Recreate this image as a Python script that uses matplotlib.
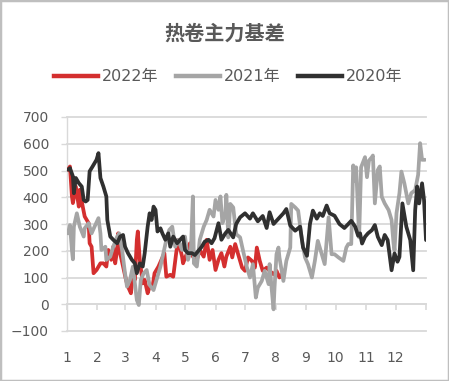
import matplotlib
matplotlib.use("Agg")
import matplotlib.pyplot as plt
from matplotlib.patches import Rectangle
from matplotlib.lines import Line2D

plt.rcParams['font.family'] = ['DejaVu Sans', 'Noto Sans CJK SC']

title = "热卷主力基差"
series_names = ["2022年", "2021年", "2020年"]
month_labels = ["1", "2", "3", "4", "5", "6", "7", "8", "9", "10", "11", "12", ""]
month_starts = [0, 31, 59, 90, 120, 151, 181, 212, 243, 273, 304, 334, 365]

days_2022 = [1, 3, 5, 6, 9, 12, 13, 16, 18, 22, 23, 25, 27, 30, 34, 37, 40, 42, 45, 47,
             49, 51, 52, 54, 57, 60, 62, 65, 67, 69, 71, 72, 74, 77, 79, 82, 84, 87, 89, 93,
             96, 99, 101, 105, 108, 111, 113, 117, 118, 122, 125, 128, 132, 135, 139, 142,
             145, 148, 151, 154, 157, 160, 162, 166, 168, 171, 174, 178, 181, 184, 188, 191,
             193, 196, 199, 203, 206, 210, 213, 216, 218]
basis_2022 = [503, 515, 403, 378, 440, 365, 428, 365, 328, 303, 228, 215, 116, 128, 153, 153,
              141, 203, 166, 215, 153, 203, 265, 191, 141, 91, 66, 41, 116, 91, 241, 272, 166,
              78, 91, 41, 66, 66, 116, 141, 166, 191, 103, 110, 103, 191, 241, 178, 153, 191,
              228, 178, 166, 203, 178, 241, 166, 203, 128, 166, 191, 141, 178, 215, 175, 225,
              187, 137, 125, 175, 162, 137, 212, 162, 125, 137, 125, 112, 125, 100, 110]

days_2021 = [1, 3, 5, 6, 7, 10, 13, 17, 18, 22, 25, 28, 32, 34, 35, 39, 40, 44, 47, 51, 53,
             56, 59, 61, 64, 67, 69, 71, 73, 75, 78, 81, 84, 88, 91, 95, 98, 101, 104, 107,
             110, 113, 117, 120, 123, 126, 128, 129, 132, 135, 139, 142, 145, 149, 151, 154,
             156, 158, 161, 162, 164, 166, 169, 172, 176, 179, 183, 186, 189, 192, 194, 198,
             201, 205, 206, 208, 210, 211, 213, 215, 216, 220, 223, 227, 228, 232, 235, 239,
             242, 245, 249, 252, 255, 259, 262, 266, 269, 272, 276, 281, 284, 286, 289, 291,
             293, 294, 297, 299, 303, 305, 307, 310, 311, 313, 316, 318, 320, 323, 327, 330,
             332, 333, 335, 338, 340, 343, 347, 350, 354, 357, 359, 361, 364]
basis_2021 = [265, 296, 203, 168, 290, 340, 290, 253, 284, 303, 265, 290, 322, 265, 203, 215,
              166, 178, 215, 253, 265, 203, 116, 66, 91, 141, 78, 16, -3, 91, 116, 128, 72, 53,
              91, 141, 191, 241, 278, 290, 215, 241, 203, 253, 166, 203, 403, 153, 141, 241,
              290, 315, 353, 328, 390, 353, 403, 303, 340, 409, 250, 375, 362, 262, 250, 200,
              137, 100, 150, 25, 62, 87, 125, 75, 150, 62, -19, 62, 187, 212, 175, 87, 162, 212,
              375, 362, 350, 237, 175, 150, 100, 162, 237, 187, 150, 325, 187, 187, 175, 162,
              212, 225, 225, 519, 462, 512, 250, 512, 550, 475, 537, 550, 556, 377, 502, 515,
              402, 377, 352, 315, 227, 202, 340, 415, 496, 452, 377, 415, 427, 484, 602, 540, 540]

days_2020 = [1, 3, 6, 7, 9, 12, 15, 17, 19, 21, 23, 26, 30, 32, 34, 37, 40, 41, 44, 47, 51,
             54, 57, 59, 62, 66, 69, 71, 74, 77, 79, 82, 84, 86, 88, 90, 92, 95, 97, 100, 103,
             105, 108, 112, 115, 118, 120, 123, 127, 130, 133, 137, 140, 144, 147, 150, 154,
             157, 161, 164, 169, 172, 176, 181, 186, 189, 194, 199, 203, 206, 210, 215, 220,
             223, 227, 232, 237, 240, 244, 247, 250, 254, 257, 260, 264, 267, 272, 277, 282,
             286, 289, 293, 296, 298, 300, 303, 306, 310, 313, 316, 320, 323, 326, 330, 333,
             336, 338, 341, 345, 349, 352, 354, 356, 358, 361, 363, 365]
basis_2020 = [503, 509, 478, 415, 472, 453, 440, 390, 384, 390, 497, 515, 540, 565, 472, 440,
              403, 315, 253, 241, 228, 253, 259, 215, 191, 166, 153, 116, 153, 141, 191, 290,
              340, 315, 365, 353, 272, 284, 265, 241, 265, 215, 253, 228, 241, 253, 203, 191,
              191, 184, 197, 215, 234, 241, 228, 247, 303, 241, 265, 278, 250, 300, 325, 340,
              320, 340, 310, 330, 285, 344, 300, 320, 340, 356, 294, 275, 290, 212, 181, 300,
              350, 320, 340, 330, 369, 340, 331, 300, 285, 300, 312, 290, 256, 265, 227, 252,
              265, 277, 296, 252, 221, 259, 240, 127, 190, 159, 177, 377, 290, 240, 127, 352,
              440, 377, 452, 390, 240]

colors = ["#d42f2f", "#a5a5a5", "#303030"]
text_color = "#595959"
grid_color = "#d9d9d9"

fig = plt.figure(figsize=(4.49, 3.81), dpi=100)
ax = fig.add_axes([67 / 449, 50 / 381, (426 - 67) / 449, (331 - 117) / 381])

for d, v, c in [(days_2022, basis_2022, colors[0]),
                (days_2021, basis_2021, colors[1]),
                (days_2020, basis_2020, colors[2])]:
    ax.plot(d, v, color=c, lw=2.7, solid_joinstyle='round', solid_capstyle='round', zorder=3)

ax.set_xlim(0, 365)
ax.set_ylim(-100, 700)
ax.set_yticks(range(-100, 701, 100))
ax.yaxis.grid(True, color=grid_color, lw=1.3, zorder=0)
ax.set_axisbelow(True)
for gl in ax.get_ygridlines():
    gl.set_clip_on(False)

ax.spines['top'].set_visible(False)
ax.spines['right'].set_visible(False)
ax.spines['left'].set_color(grid_color)
ax.spines['left'].set_linewidth(1.0)
ax.spines['bottom'].set_position(('data', 0))
ax.spines['bottom'].set_color(grid_color)
ax.spines['bottom'].set_linewidth(1.3)

ax.set_xticks(month_starts)
ax.set_xticklabels(month_labels)
ax.tick_params(axis='x', direction='out', length=4, width=1.2, color=grid_color,
               pad=30, labelsize=10, labelcolor=text_color)
ax.tick_params(axis='y', direction='out', length=4, width=1.0, color=grid_color,
               pad=9, labelsize=10, labelcolor=text_color)

fig.text(0.5, 1 - 33 / 381, title, ha='center', va='center', fontsize=14.5,
         fontweight='bold', color=text_color, family=['Noto Sans CJK SC'])

handles = [Line2D([0], [0], color=c, lw=3.2) for c in colors]
fig.legend(handles, series_names, loc='center', bbox_to_anchor=(0.508, 1 - 77 / 381),
           ncol=3, frameon=False, handlelength=2.75, handletextpad=0.25, columnspacing=1.1,
           fontsize=11.5, labelcolor=text_color)

fig.patches.append(Rectangle((0, 0), 1, 1, transform=fig.transFigure, fill=False,
                             edgecolor='#bfbfbf', lw=2.5))

fig.savefig("out.png", dpi=100)
